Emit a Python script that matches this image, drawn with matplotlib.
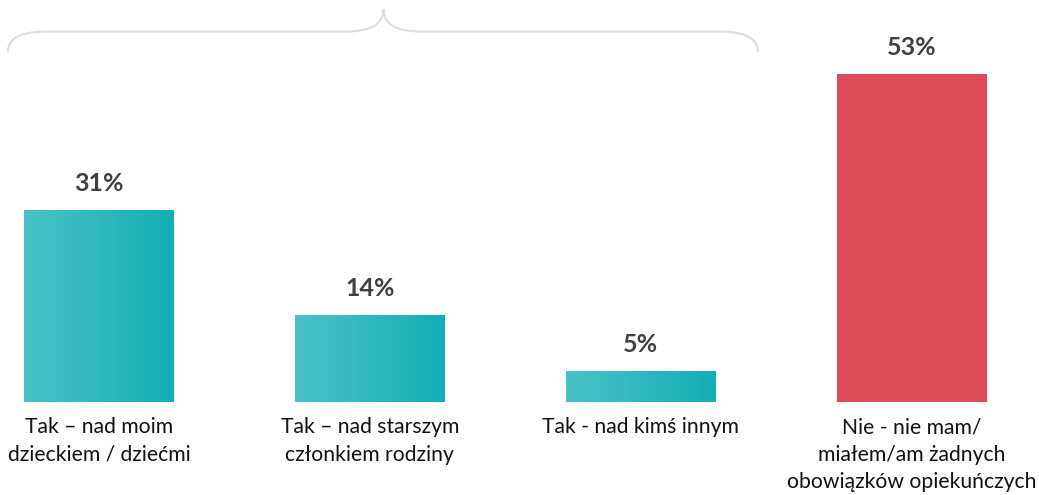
import matplotlib
matplotlib.use("Agg")
import matplotlib.pyplot as plt
import numpy as np
from matplotlib.path import Path
from matplotlib.patches import PathPatch
from matplotlib.colors import LinearSegmentedColormap

categories = ["Tak – nad moim\ndzieckiem / dziećmi",
              "Tak – nad starszym\nczłonkiem rodziny",
              "Tak - nad kimś innym",
              "Nie - nie mam/\nmiałem/am żadnych\nobowiązków opiekuńczych"]
values = [31, 14, 5, 53]
labels = ["31%", "14%", "5%", "53%"]
is_yes = [True, True, True, False]

plt.rcParams['font.family'] = ['Lato', 'DejaVu Sans']

fig = plt.figure(figsize=(10.39, 4.95), dpi=100)
ax = fig.add_axes([0, 0, 1, 1])
x = np.arange(len(categories))
width = 0.553
teal_cmap = LinearSegmentedColormap.from_list("teal", ["#4AC2C7", "#13AEB5"])
red = "#DE4C5B"

bars = ax.bar(x, values, width=width, color=[("#2BB8BE" if y else red) for y in is_yes], zorder=2)
grad = np.linspace(0, 1, 256).reshape(1, -1)
for b, y in zip(bars, is_yes):
    if y:
        x0, y0 = b.get_x(), b.get_y()
        im = ax.imshow(grad, cmap=teal_cmap, aspect='auto',
                       extent=(x0, x0 + b.get_width(), y0, y0 + b.get_height()), zorder=3)
        im.set_clip_path(b)

for xi, v, lab in zip(x, values, labels):
    ax.annotate(lab, (xi, v), xytext=(0, 13.8), textcoords='offset points',
                ha='center', va='baseline', fontsize=18, fontweight='bold', color='#404040')

for xi, cat in zip(x, categories):
    ax.annotate(cat, (xi, 0), xytext=(0, -11), textcoords='offset points',
                ha='center', va='top', fontsize=15.2, color='#111111', linespacing=1.45)

# brace over the "Tak" group
bx0, bx1, btip = -0.336, 2.432, 1.05
y_end, y_flat, y_tip = 56.5, 59.8, 63.4
r = 0.14
verts = [(bx0, y_end), (bx0, y_flat), (bx0 + r, y_flat),
         (btip - r, y_flat),
         (btip, y_flat), (btip, y_tip),
         (btip, y_flat), (btip + r, y_flat),
         (bx1 - r, y_flat),
         (bx1, y_flat), (bx1, y_end)]
codes = [Path.MOVETO, Path.CURVE3, Path.CURVE3,
         Path.LINETO,
         Path.CURVE3, Path.CURVE3,
         Path.CURVE3, Path.CURVE3,
         Path.LINETO,
         Path.CURVE3, Path.CURVE3]
ax.add_patch(PathPatch(Path(verts, codes), fill=False, edgecolor='#DCDCDC', lw=1.5, zorder=1))

ax.set_xlim(-0.365, 3.469)
ax.set_ylim(-15.0, 64.9)
ax.axis('off')
fig.savefig("out.png", dpi=100)
